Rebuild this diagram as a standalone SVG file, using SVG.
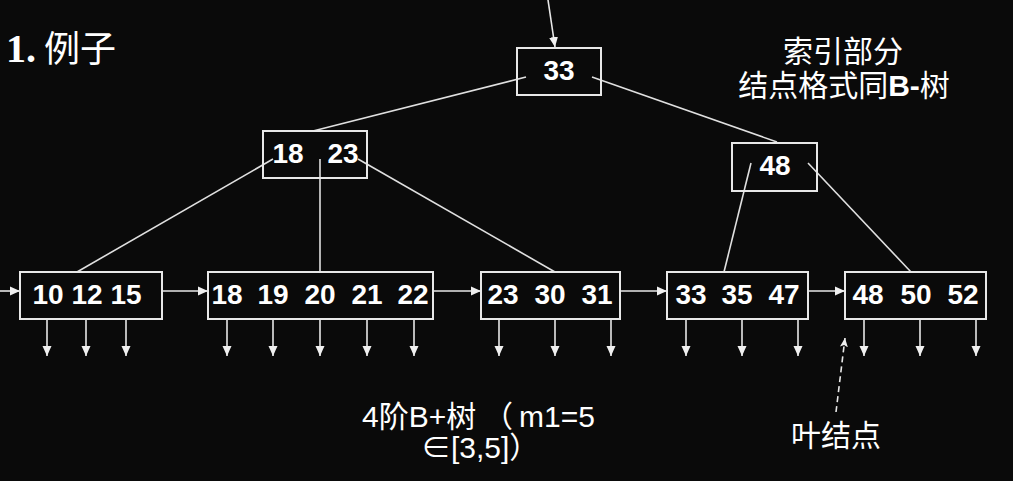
<svg xmlns="http://www.w3.org/2000/svg" width="1013" height="481" viewBox="0 0 1013 481">
<defs>
<style>
.box{fill:none;stroke:#e8e8e8;stroke-width:2}
.num{font-family:"Liberation Sans",Arial,sans-serif;font-weight:bold;font-size:28px;fill:#fff;text-anchor:middle}
.ln{stroke:#e0e0e0;stroke-width:1.6;fill:none}
.arr{stroke:#e8e8e8;stroke-width:1.6;fill:none;marker-end:url(#ah)}
.lbl{font-family:"Liberation Sans","Noto Sans CJK SC",sans-serif;font-size:30px;fill:#fff}
</style>
<marker id="ah" markerUnits="userSpaceOnUse" markerWidth="10" markerHeight="10" refX="10" refY="5" orient="auto">
<path d="M0,0.5 L10,5 L0,9.5 z" fill="#f0f0f0"/>
</marker>
<marker id="ah2" markerUnits="userSpaceOnUse" markerWidth="10" markerHeight="10" refX="9" refY="5" orient="auto">
<path d="M0,1 L9,5 L0,9 L2,5 z" fill="#f0f0f0"/>
</marker>
</defs>
<rect width="1013" height="481" fill="#0a0a0a"/>

<text x="6" y="62" fill="#fff"><tspan font-family="Liberation Serif,serif" font-weight="bold" font-size="40">1.</tspan><tspan font-family="Noto Sans CJK SC,sans-serif" font-size="36"> 例子</tspan></text>

<g id="connectors">
<line class="arr" x1="548" y1="0" x2="555" y2="47"/>
<line class="ln" x1="526" y1="77" x2="313" y2="131"/>
<line class="ln" x1="592" y1="77" x2="777" y2="142"/>
<line class="ln" x1="273" y1="159" x2="77" y2="272"/>
<line class="ln" x1="320" y1="159" x2="320" y2="272"/>
<line class="ln" x1="358" y1="159" x2="555" y2="272"/>
<line class="ln" x1="751" y1="163" x2="724" y2="272"/>
<line class="ln" x1="808" y1="163" x2="911" y2="272"/>
<line class="arr" x1="0" y1="291" x2="20" y2="291"/>
<line class="arr" x1="162" y1="291" x2="208" y2="291"/>
<line class="arr" x1="433" y1="291" x2="481" y2="291"/>
<line class="arr" x1="620" y1="291" x2="667" y2="291"/>
<line class="arr" x1="808" y1="291" x2="845" y2="291"/>
<g id="down">
<line class="arr" x1="47" y1="320" x2="47" y2="356"/>
<line class="arr" x1="86" y1="320" x2="86" y2="356"/>
<line class="arr" x1="126" y1="320" x2="126" y2="356"/>
<line class="arr" x1="227" y1="320" x2="227" y2="356"/>
<line class="arr" x1="273" y1="320" x2="273" y2="356"/>
<line class="arr" x1="320" y1="320" x2="320" y2="356"/>
<line class="arr" x1="367" y1="320" x2="367" y2="356"/>
<line class="arr" x1="414" y1="320" x2="414" y2="356"/>
<line class="arr" x1="499" y1="320" x2="499" y2="356"/>
<line class="arr" x1="555" y1="320" x2="555" y2="356"/>
<line class="arr" x1="611" y1="320" x2="611" y2="356"/>
<line class="arr" x1="686" y1="320" x2="686" y2="356"/>
<line class="arr" x1="742" y1="320" x2="742" y2="356"/>
<line class="arr" x1="798" y1="320" x2="798" y2="356"/>
<line class="arr" x1="864" y1="320" x2="864" y2="356"/>
<line class="arr" x1="920" y1="320" x2="920" y2="356"/>
<line class="arr" x1="976" y1="320" x2="976" y2="356"/>
</g>
<line x1="836" y1="412" x2="845" y2="338" stroke="#e8e8e8" stroke-width="1.6" stroke-dasharray="6,4" marker-end="url(#ah2)"/>
</g>

<g id="root">
<rect class="box" x="517" y="48" width="84" height="47"/>
<text class="num" x="559" y="80">33</text>
</g>
<g id="n1823">
<rect class="box" x="263" y="131" width="104" height="47"/>
<text class="num" x="288" y="163">18</text>
<text class="num" x="343" y="163">23</text>
</g>
<g id="n48">
<rect class="box" x="732" y="143" width="85" height="48"/>
<text class="num" x="775" y="175">48</text>
</g>
<g id="leaf1">
<rect class="box" x="20" y="272" width="142" height="47"/>
<text class="num" x="48" y="304">10</text>
<text class="num" x="87" y="304">12</text>
<text class="num" x="126" y="304">15</text>
</g>
<g id="leaf2">
<rect class="box" x="208" y="272" width="225" height="47"/>
<text class="num" x="227" y="304">18</text>
<text class="num" x="273" y="304">19</text>
<text class="num" x="320" y="304">20</text>
<text class="num" x="367" y="304">21</text>
<text class="num" x="413" y="304">22</text>
</g>
<g id="leaf3">
<rect class="box" x="481" y="272" width="139" height="47"/>
<text class="num" x="503" y="304">23</text>
<text class="num" x="550" y="304">30</text>
<text class="num" x="597" y="304">31</text>
</g>
<g id="leaf4">
<rect class="box" x="667" y="272" width="141" height="47"/>
<text class="num" x="691" y="304">33</text>
<text class="num" x="737" y="304">35</text>
<text class="num" x="784" y="304">47</text>
</g>
<g id="leaf5">
<rect class="box" x="845" y="272" width="141" height="47"/>
<text class="num" x="868" y="304">48</text>
<text class="num" x="916" y="304">50</text>
<text class="num" x="963" y="304">52</text>
</g>

<g id="label-index">
<text class="lbl" x="843" y="62" text-anchor="middle">索引部分</text>
<text class="lbl" x="844" y="96" text-anchor="middle">结点格式同<tspan font-weight="bold">B-</tspan>树</text>
</g>
<g id="label-order">
<text class="lbl" x="362" y="427">4阶B+树<tspan x="483">（</tspan><tspan x="519">m1=5</tspan></text>
<text class="lbl" x="421" y="458">∈[3,5]）</text>
</g>
<g id="label-leaf">
<text class="lbl" x="836" y="446" text-anchor="middle">叶结点</text>
</g>
</svg>
